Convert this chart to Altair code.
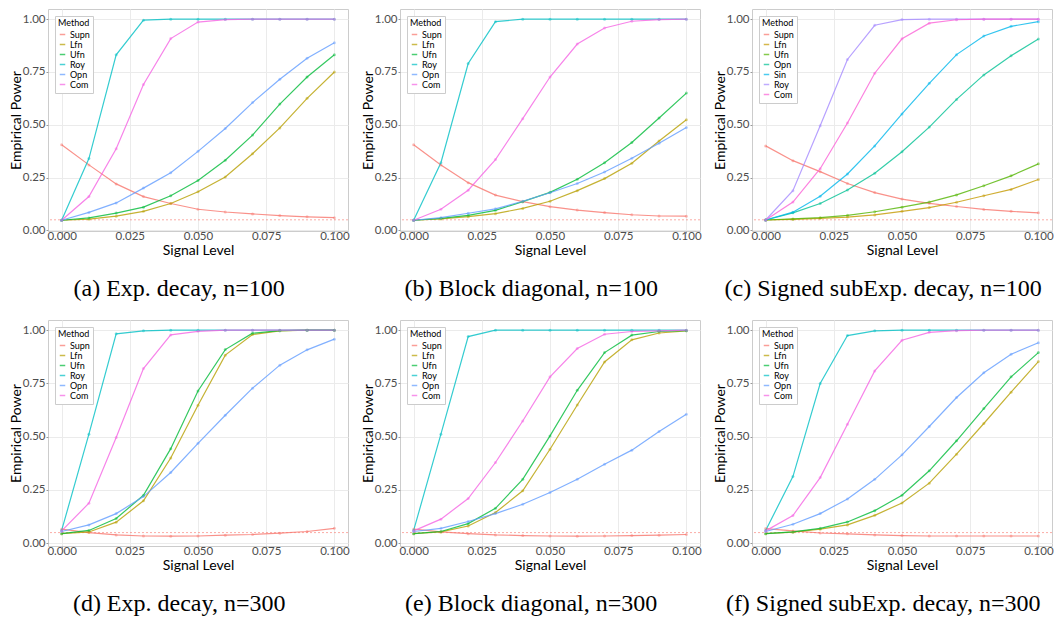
import altair as alt
import pandas as pd

SIGNAL = [0.0, 0.01, 0.02, 0.03, 0.04, 0.05, 0.06, 0.07, 0.08, 0.09, 0.1]
XTICKS = [0.0, 0.025, 0.05, 0.075, 0.1]
YTICKS = [0.0, 0.25, 0.5, 0.75, 1.0]
NOMINAL = 0.05

METHODS6 = ["Supn", "Lfn", "Ufn", "Roy", "Opn", "Com"]
COLORS6 = ["#F8766D", "#B79F00", "#00BA38", "#00BFC4", "#619CFF", "#F564E3"]
METHODS7 = ["Supn", "Lfn", "Ufn", "Opn", "Sin", "Roy", "Com"]
COLORS7 = ["#F8766D", "#C49A00", "#53B400", "#00C094", "#00B6EB", "#A58AFF", "#FB61D7"]

# (a) Exp. decay, n=100
a_supn = [0.405, 0.31, 0.22, 0.16, 0.127, 0.10, 0.087, 0.078, 0.07, 0.064, 0.06]
a_lfn = [0.048, 0.053, 0.067, 0.09, 0.127, 0.183, 0.253, 0.363, 0.485, 0.625, 0.75]
a_ufn = [0.048, 0.059, 0.082, 0.11, 0.164, 0.236, 0.332, 0.451, 0.598, 0.726, 0.831]
a_roy = [0.048, 0.34, 0.831, 0.995, 1.0, 1.0, 1.0, 1.0, 1.0, 1.0, 1.0]
a_opn = [0.048, 0.085, 0.13, 0.2, 0.273, 0.374, 0.482, 0.605, 0.715, 0.815, 0.888]
a_com = [0.048, 0.16, 0.386, 0.691, 0.908, 0.986, 0.998, 1.0, 1.0, 1.0, 1.0]

# (b) Block diagonal, n=100
b_supn = [0.405, 0.31, 0.226, 0.167, 0.136, 0.112, 0.096, 0.084, 0.074, 0.068, 0.067]
b_lfn = [0.048, 0.054, 0.065, 0.079, 0.104, 0.138, 0.188, 0.245, 0.318, 0.423, 0.524]
b_ufn = [0.048, 0.057, 0.071, 0.095, 0.136, 0.18, 0.242, 0.32, 0.416, 0.532, 0.65]
b_roy = [0.048, 0.32, 0.79, 0.988, 1.0, 1.0, 1.0, 1.0, 1.0, 1.0, 1.0]
b_opn = [0.048, 0.06, 0.081, 0.102, 0.138, 0.178, 0.222, 0.276, 0.341, 0.412, 0.487]
b_com = [0.048, 0.1, 0.19, 0.335, 0.529, 0.726, 0.882, 0.958, 0.99, 0.998, 1.0]

# (c) Signed subExp. decay, n=100
c_supn = [0.40, 0.33, 0.278, 0.222, 0.179, 0.148, 0.128, 0.113, 0.099, 0.09, 0.083]
c_lfn = [0.049, 0.052, 0.057, 0.063, 0.073, 0.09, 0.108, 0.133, 0.164, 0.194, 0.241]
c_ufn = [0.049, 0.054, 0.06, 0.071, 0.088, 0.11, 0.134, 0.168, 0.211, 0.258, 0.315]
c_opn = [0.049, 0.083, 0.127, 0.191, 0.27, 0.372, 0.489, 0.62, 0.736, 0.827, 0.906]
c_sin = [0.049, 0.086, 0.162, 0.267, 0.40, 0.551, 0.696, 0.832, 0.92, 0.966, 0.988]
c_roy = [0.049, 0.188, 0.495, 0.809, 0.971, 0.998, 1.0, 1.0, 1.0, 1.0, 1.0]
c_com = [0.049, 0.134, 0.292, 0.508, 0.744, 0.907, 0.981, 0.997, 1.0, 1.0, 1.0]

# (d) Exp. decay, n=300
d_supn = [0.066, 0.05, 0.039, 0.034, 0.033, 0.034, 0.038, 0.041, 0.047, 0.055, 0.07]
d_lfn = [0.045, 0.053, 0.099, 0.199, 0.40, 0.648, 0.883, 0.98, 0.997, 1.0, 1.0]
d_ufn = [0.045, 0.06, 0.116, 0.225, 0.444, 0.715, 0.909, 0.986, 0.998, 1.0, 1.0]
d_roy = [0.06, 0.512, 0.983, 0.997, 1.0, 1.0, 1.0, 1.0, 1.0, 1.0, 1.0]
d_opn = [0.055, 0.086, 0.139, 0.219, 0.332, 0.469, 0.601, 0.728, 0.836, 0.908, 0.958]
d_com = [0.058, 0.188, 0.496, 0.82, 0.978, 0.995, 1.0, 1.0, 1.0, 1.0, 1.0]

# (e) Block diagonal, n=300
e_supn = [0.066, 0.053, 0.045, 0.039, 0.036, 0.034, 0.033, 0.034, 0.036, 0.038, 0.041]
e_lfn = [0.045, 0.053, 0.081, 0.144, 0.246, 0.441, 0.649, 0.851, 0.955, 0.987, 0.997]
e_ufn = [0.045, 0.055, 0.092, 0.164, 0.30, 0.504, 0.718, 0.895, 0.977, 0.994, 0.998]
e_roy = [0.06, 0.512, 0.97, 1.0, 1.0, 1.0, 1.0, 1.0, 1.0, 1.0, 1.0]
e_opn = [0.055, 0.07, 0.102, 0.139, 0.183, 0.238, 0.30, 0.371, 0.437, 0.524, 0.606]
e_com = [0.058, 0.113, 0.21, 0.379, 0.574, 0.781, 0.914, 0.981, 0.994, 0.997, 1.0]

# (f) Signed subExp. decay, n=300
f_supn = [0.069, 0.058, 0.048, 0.044, 0.039, 0.036, 0.034, 0.034, 0.034, 0.034, 0.034]
f_lfn = [0.045, 0.052, 0.066, 0.086, 0.131, 0.189, 0.282, 0.418, 0.562, 0.709, 0.853]
f_ufn = [0.045, 0.053, 0.07, 0.10, 0.153, 0.225, 0.34, 0.481, 0.632, 0.781, 0.895]
f_roy = [0.06, 0.313, 0.75, 0.975, 0.997, 1.0, 1.0, 1.0, 1.0, 1.0, 1.0]
f_opn = [0.055, 0.089, 0.139, 0.208, 0.30, 0.415, 0.548, 0.684, 0.80, 0.887, 0.941]
f_com = [0.058, 0.13, 0.308, 0.559, 0.809, 0.953, 0.99, 0.998, 1.0, 1.0, 1.0]

PANELS = [
    ("(a) Exp. decay, n=100", METHODS6, COLORS6, [a_supn, a_lfn, a_ufn, a_roy, a_opn, a_com]),
    ("(b) Block diagonal, n=100", METHODS6, COLORS6, [b_supn, b_lfn, b_ufn, b_roy, b_opn, b_com]),
    ("(c) Signed subExp. decay, n=100", METHODS7, COLORS7, [c_supn, c_lfn, c_ufn, c_opn, c_sin, c_roy, c_com]),
    ("(d) Exp. decay, n=300", METHODS6, COLORS6, [d_supn, d_lfn, d_ufn, d_roy, d_opn, d_com]),
    ("(e) Block diagonal, n=300", METHODS6, COLORS6, [e_supn, e_lfn, e_ufn, e_roy, e_opn, e_com]),
    ("(f) Signed subExp. decay, n=300", METHODS6, COLORS6, [f_supn, f_lfn, f_ufn, f_roy, f_opn, f_com]),
]

YDOM_TOP = [-0.003, 1.048]
YDOM_BOT = [-0.013, 1.048]
H_TOP = 222
H_BOT = 226


def make_panel(caption, methods, colors, series, ydom, height):
    rows = []
    for m, vals in zip(methods, series):
        for s, v in zip(SIGNAL, vals):
            rows.append({"signal": s, "power": v, "method": m})
    df = pd.DataFrame(rows)
    base = alt.Chart(df).encode(
        x=alt.X("signal:Q", title="Signal Level",
                scale=alt.Scale(domain=[-0.005, 0.105], nice=False, zero=False),
                axis=alt.Axis(values=XTICKS, format=".3f", labelPadding=-3, titlePadding=2)),
        y=alt.Y("power:Q", title="Empirical Power",
                scale=alt.Scale(domain=ydom, nice=False, zero=False),
                axis=alt.Axis(values=YTICKS, format=".2f", labelPadding=1, titlePadding=-1)),
        color=alt.Color("method:N", sort=methods,
                        scale=alt.Scale(domain=methods, range=colors),
                        legend=alt.Legend(title="Method", orient="top-left", offset=7,
                                          symbolType="stroke", symbolSize=30,
                                          symbolStrokeWidth=1.5, symbolOpacity=0.7,
                                          labelFontSize=9, titleFontSize=9,
                                          titleFontWeight="normal", titlePadding=2,
                                          rowPadding=-1, padding=3, labelOffset=3,
                                          fillColor="white", strokeColor="#cccccc",
                                          labelFont="Lato", titleFont="Lato",
                                          labelColor="black", titleColor="black")),
    )
    lines = base.mark_line(strokeWidth=1.2, opacity=0.8)
    pts = base.mark_point(filled=True, size=9, opacity=0.45)
    ref = alt.Chart(pd.DataFrame({"power": [NOMINAL]})).mark_rule(
        color="#F8766D", strokeDash=[2, 2], opacity=0.6, strokeWidth=1
    ).encode(y=alt.Y("power:Q", title="Empirical Power"))
    return alt.layer(ref, lines, pts).properties(
        width=300, height=height,
        title=alt.TitleParams(text=caption, orient="bottom", font="Liberation Serif",
                              fontSize=24, fontWeight="normal", color="black",
                              offset=19, anchor="middle", frame="bounds"),
    )


top = [make_panel(c, m, col, s, YDOM_TOP, H_TOP) for c, m, col, s in PANELS[:3]]
bot = [make_panel(c, m, col, s, YDOM_BOT, H_BOT) for c, m, col, s in PANELS[3:]]

row1 = alt.hconcat(*top, spacing=52, bounds="flush").resolve_scale(
    x="independent", y="independent", color="independent")
row2 = alt.hconcat(*bot, spacing=52, bounds="flush").resolve_scale(
    x="independent", y="independent", color="independent")

chart = alt.vconcat(row1, row2, spacing=H_TOP + 89, bounds="flush").resolve_scale(
    x="independent", y="independent", color="independent"
).properties(
    padding={"left": 0, "top": 0, "right": 0, "bottom": 0}
).configure_view(
    stroke="#cccccc", strokeWidth=1
).configure_axis(
    grid=True, gridColor="#ebebeb", gridWidth=1, domain=False,
    tickColor="#999999", tickSize=2,
    labelColor="#4d4d4d", labelFont="Lato", labelFontSize=11.5,
    titleFont="Lato", titleFontSize=14, titleFontWeight="normal", titleColor="black"
)

chart.save("out.html", embed_options={"renderer": "svg", "actions": False})
